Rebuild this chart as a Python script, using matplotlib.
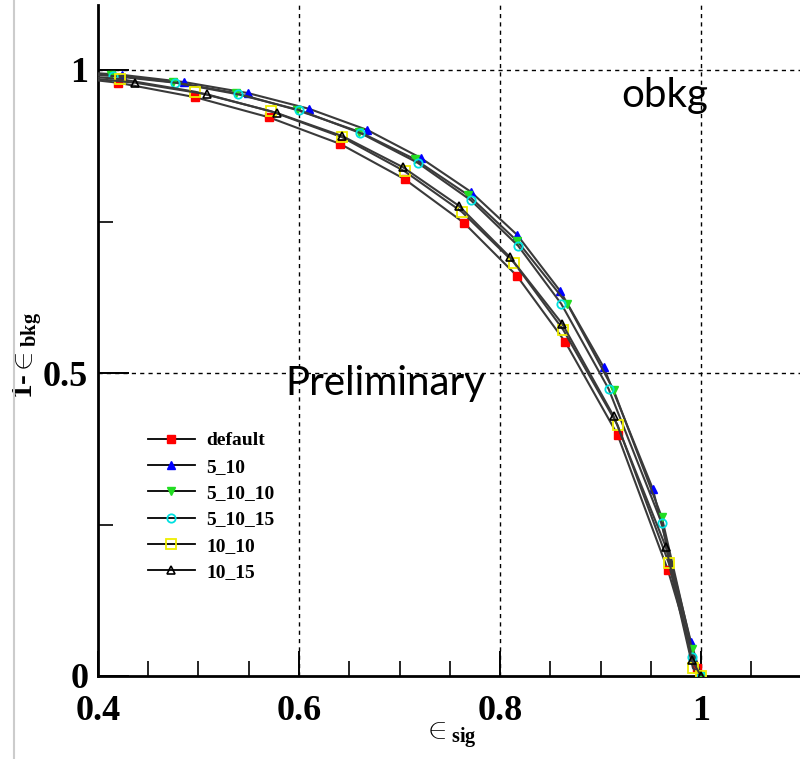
#!/usr/bin/python
"""ROC curves (1 - bkg efficiency vs signal efficiency) for the obkg training variants."""

import matplotlib
matplotlib.use("Agg")
from matplotlib import pyplot as plt
from matplotlib.lines import Line2D
from matplotlib.ticker import FixedLocator, FuncFormatter

# Signal efficiency / background rejection, one pair per variant.
# The first point sits left of the frame so the curves run in from the edge.
default_sig = [0.35, 0.420, 0.497, 0.570, 0.641, 0.705, 0.764, 0.817, 0.865, 0.917, 0.967, 0.996, 0.999]
default_rej = [0.992, 0.979, 0.955, 0.922, 0.878, 0.820, 0.748, 0.660, 0.551, 0.398, 0.175, 0.013, 0.0]

b5_10_sig = [0.35, 0.424, 0.486, 0.549, 0.610, 0.668, 0.721, 0.771, 0.817, 0.860, 0.903, 0.952, 0.990, 1.0]
b5_10_rej = [1.000, 0.992, 0.980, 0.962, 0.936, 0.901, 0.855, 0.799, 0.728, 0.635, 0.510, 0.309, 0.056, 0.0]

b5_10_10_sig = [0.35, 0.413, 0.475, 0.537, 0.598, 0.660, 0.715, 0.768, 0.817, 0.867, 0.913, 0.961, 0.991, 1.0]
b5_10_10_rej = [0.998, 0.992, 0.980, 0.962, 0.934, 0.898, 0.853, 0.794, 0.718, 0.614, 0.472, 0.262, 0.045, 0.0]

b5_10_15_sig = [0.35, 0.415, 0.477, 0.539, 0.600, 0.661, 0.718, 0.771, 0.818, 0.861, 0.908, 0.961, 0.991, 1.0]
b5_10_15_rej = [0.997, 0.990, 0.979, 0.960, 0.934, 0.896, 0.847, 0.785, 0.710, 0.614, 0.474, 0.252, 0.031, 0.0]

b10_10_sig = [0.35, 0.422, 0.497, 0.572, 0.643, 0.705, 0.762, 0.814, 0.863, 0.917, 0.968, 0.992, 1.0]
b10_10_rej = [0.995, 0.985, 0.964, 0.932, 0.889, 0.833, 0.766, 0.682, 0.571, 0.414, 0.186, 0.013, 0.0]

b10_15_sig = [0.35, 0.437, 0.508, 0.578, 0.643, 0.703, 0.759, 0.810, 0.862, 0.913, 0.965, 0.991, 1.0]
b10_15_rej = [0.993, 0.979, 0.960, 0.929, 0.891, 0.840, 0.776, 0.691, 0.581, 0.429, 0.213, 0.026, 0.0]

labels = ["default", "5_10", "5_10_10", "5_10_15", "10_10", "10_15"]

x_major = [0.4, 0.6, 0.8, 1.0]
y_major = [0.0, 0.5, 1.0]


def _fmt(v, pos):
    return ("%g" % round(v, 3))


def main():
    matplotlib.rcParams.update({
        "mathtext.fontset": "custom",
        "mathtext.rm": "Liberation Serif",
        "mathtext.bf": "Liberation Serif:bold",
        "mathtext.it": "Liberation Serif:italic",
    })

    fig = plt.figure(figsize=(8.0, 7.59), dpi=100)
    ax = fig.add_axes([98 / 800.0, 83 / 759.0, 702 / 800.0, 671 / 759.0])

    # Slide border on the far left.
    fig.add_artist(Line2D([14 / 800.0, 14 / 800.0], [0, 1], color="#cccccc", lw=1.5))

    line_kw = dict(color="#3a3a3a", linewidth=1.5, zorder=3)
    series = [
        (default_sig, default_rej, dict(marker="s", markersize=6, markerfacecolor="red",
                                        markeredgecolor="red")),
        (b5_10_sig, b5_10_rej, dict(marker="^", markersize=5.5, markerfacecolor="blue",
                                    markeredgecolor="blue")),
        (b5_10_10_sig, b5_10_10_rej, dict(marker="v", markersize=5.5, markerfacecolor="#22dd22",
                                          markeredgecolor="#22dd22")),
        (b5_10_15_sig, b5_10_15_rej, dict(marker="o", markersize=6, markerfacecolor="none",
                                          markeredgecolor="#00e0e0", markeredgewidth=1.3)),
        (b10_10_sig, b10_10_rej, dict(marker="s", markersize=6.5, markerfacecolor="none",
                                      markeredgecolor="#eeee00", markeredgewidth=1.3)),
        (b10_15_sig, b10_15_rej, dict(marker="^", markersize=6, markerfacecolor="none",
                                      markeredgecolor="black", markeredgewidth=1.2)),
    ]
    for (xs, ys, mk), lab in zip(series, labels):
        ax.plot(xs, ys, label=lab, **line_kw, **mk)

    ax.set_xlim(0.4, 0.4 + 702 / 1005.0)
    ax.set_ylim(0.0, 671 / 606.0)

    # Dashed grid like the ROOT canvas.
    for gx in [0.6, 0.8, 1.0]:
        ax.axvline(gx, color="black", linewidth=1.0, linestyle=(0, (3, 3)), zorder=1)
    for gy in [0.5, 1.0]:
        ax.axhline(gy, color="black", linewidth=1.0, linestyle=(0, (3, 3)), zorder=1)

    for side in ["top", "right"]:
        ax.spines[side].set_visible(False)
    for side in ["left", "bottom"]:
        ax.spines[side].set_linewidth(2.0)

    ax.xaxis.set_major_locator(FixedLocator(x_major))
    ax.xaxis.set_minor_locator(FixedLocator([0.4 + 0.05 * i for i in range(15)]))
    ax.yaxis.set_major_locator(FixedLocator(y_major))
    ax.yaxis.set_minor_locator(FixedLocator([0.25, 0.75]))
    ax.xaxis.set_major_formatter(FuncFormatter(_fmt))
    ax.yaxis.set_major_formatter(FuncFormatter(_fmt))
    ax.tick_params(axis="x", which="major", direction="in", length=18, width=1.4, pad=14)
    ax.tick_params(axis="x", which="minor", direction="in", length=11, width=1.2)
    ax.tick_params(axis="y", which="major", direction="in", length=22, width=1.4, pad=7)
    ax.tick_params(axis="y", which="minor", direction="in", length=11, width=1.2)
    for t in ax.get_xticklabels() + ax.get_yticklabels():
        t.set_family("Liberation Serif")
        t.set_fontweight("bold")
        t.set_fontsize(26)

    ax.set_xlabel(r"$\in_{\mathbf{sig}}$", fontsize=21)
    ax.set_ylabel(r"1-$\in_{\mathbf{bkg}}$", fontsize=21, family="Liberation Serif",
                  fontweight="bold")
    ax.xaxis.set_label_coords((450 - 98) / 702.0, -0.066)
    ax.yaxis.set_label_coords(-0.077, (676 - 356) / 671.0)

    leg = ax.legend(loc="upper left", bbox_to_anchor=(0.06, (676 - 424) / 671.0),
                    prop={"family": "Liberation Serif", "weight": "bold", "size": 14},
                    frameon=True, fancybox=False, framealpha=1.0, edgecolor="white",
                    facecolor="white", handlelength=2.4, handletextpad=0.6,
                    labelspacing=0.45, borderpad=0.4, borderaxespad=0.0)
    leg.set_zorder(5)
    for h in leg.get_lines():
        h.set_color("black")
        h.set_linewidth(1.3)

    fig.text(665 / 800.0, 1 - 95 / 759.0, "obkg", family="Lato", fontsize=29,
             ha="center", va="center")
    fig.text(385 / 800.0, 1 - 383 / 759.0, "Preliminary", family="Lato", fontsize=29,
             ha="center", va="center")

    fig.savefig("out.png", dpi=100)


if __name__ == '__main__':
    main()
